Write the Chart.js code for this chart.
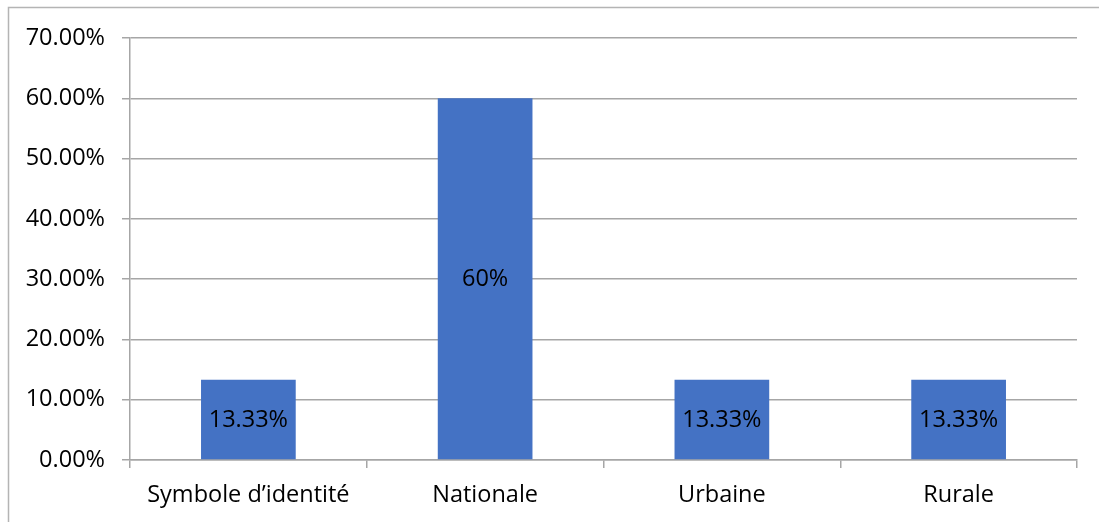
<!DOCTYPE html>
<html>
<head>
<meta charset="utf-8">
<script src="https://cdn.jsdelivr.net/npm/chart.js@4/dist/chart.umd.min.js"></script>
<style>
    html, body { margin: 0; padding: 0; background: #ffffff; }
    #wrap { position: relative; width: 1099px; height: 522px; }
</style>
</head>
<body>
<div id="wrap">
    <canvas id="canvas" width="1099" height="522"></canvas>
</div>
<script>
var categories = ['Symbole d\u2019identit\u00e9', 'Nationale', 'Urbaine', 'Rurale'];
var values = [13.33, 60, 13.33, 13.33];
var yTicks = [0, 10, 20, 30, 40, 50, 60, 70];

var font = { family: "'Open Sans', 'Liberation Sans', sans-serif", size: 23.5 };

// white page with a thin frame round the chart
var framePlugin = {
    id: 'frame',
    beforeDraw: function (chart) {
        var ctx = chart.ctx;
        ctx.save();
        ctx.fillStyle = '#ffffff';
        ctx.fillRect(0, 0, chart.width, chart.height);
        ctx.strokeStyle = '#b4b4b4';
        ctx.lineWidth = 1.5;
        ctx.strokeRect(8.5, 7.5, chart.width + 20, chart.height + 20);
        ctx.restore();
    }
};

// value written in the middle of each bar
var barLabels = {
    id: 'barLabels',
    afterDatasetsDraw: function (chart) {
        var ctx = chart.ctx;
        var meta = chart.getDatasetMeta(0);
        ctx.save();
        ctx.font = font.size + 'px ' + font.family;
        ctx.fillStyle = '#000000';
        ctx.textAlign = 'center';
        ctx.textBaseline = 'middle';
        meta.data.forEach(function (bar, i) {
            var mid = (bar.y + bar.base) / 2;
            ctx.fillText(values[i] + '%', bar.x, mid + 1);
        });
        ctx.restore();
    }
};

var ctx = document.getElementById('canvas');
var myChart = new Chart(ctx, {
    type: 'bar',
    data: {
        labels: categories,
        datasets: [{
            data: values,
            backgroundColor: '#4472c4',
            borderWidth: 0,
            barPercentage: 0.4,
            categoryPercentage: 1
        }]
    },
    options: {
        responsive: false,
        animation: false,
        layout: { padding: { left: 0, top: 38, right: 22, bottom: 0 } },
        plugins: {
            legend: { display: false },
            tooltip: { enabled: false }
        },
        scales: {
            x: {
                grid: {
                    offset: true,
                    drawOnChartArea: false,
                    drawTicks: true,
                    tickLength: 8,
                    color: '#a6a6a6',
                    lineWidth: 1.5
                },
                border: { color: '#a6a6a6', width: 1.5 },
                ticks: { color: '#000000', font: font, padding: 13, maxRotation: 0 },
                afterFit: function (scale) { scale.height = 62; }
            },
            y: {
                min: 0,
                max: 70,
                afterBuildTicks: function (scale) {
                    scale.ticks = yTicks.map(function (v) { return { value: v }; });
                },
                grid: {
                    color: '#a6a6a6',
                    lineWidth: 1.5,
                    drawTicks: true,
                    tickLength: 8
                },
                border: { color: '#a6a6a6', width: 1.5 },
                ticks: {
                    color: '#000000',
                    font: font,
                    padding: 17,
                    callback: function (v) { return v.toFixed(2) + '%'; }
                },
                afterFit: function (scale) { scale.width = 130; }
            }
        }
    },
    plugins: [framePlugin, barLabels]
});
</script>
</body>
</html>
